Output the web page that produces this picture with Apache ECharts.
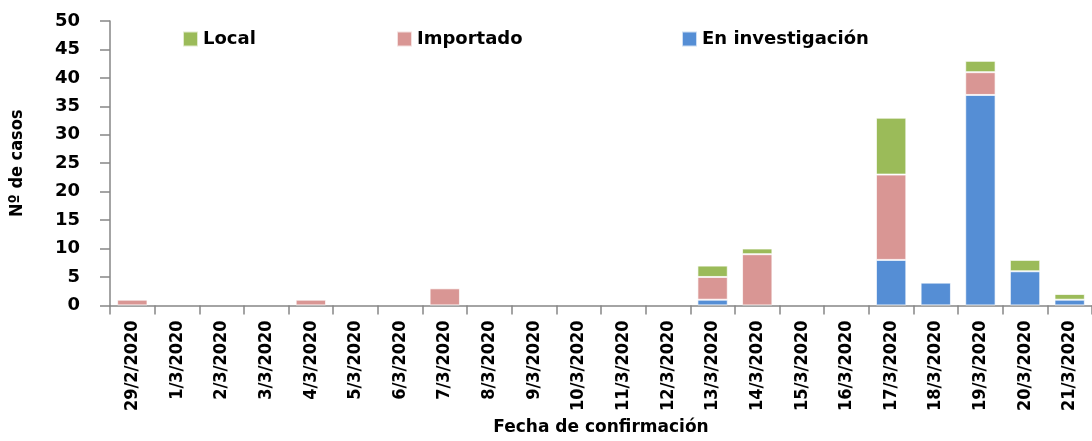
<!DOCTYPE html>
<html><head><meta charset="utf-8">
<script src="https://cdn.jsdelivr.net/npm/echarts@6/dist/echarts.min.js"></script>
<style>html,body{margin:0;padding:0;background:#fff}#c{width:1092px;height:441px}</style>
</head><body><div id="c"></div>
<script>
var categories = ['29/2/2020','1/3/2020','2/3/2020','3/3/2020','4/3/2020','5/3/2020','6/3/2020','7/3/2020','8/3/2020','9/3/2020','10/3/2020','11/3/2020','12/3/2020','13/3/2020','14/3/2020','15/3/2020','16/3/2020','17/3/2020','18/3/2020','19/3/2020','20/3/2020','21/3/2020'];
var enInvestigacion = [0,0,0,0,0,0,0,0,0,0,0,0,0,1,0,0,0,8,4,37,6,1];
var importado =       [1,0,0,0,1,0,0,3,0,0,0,0,0,4,9,0,0,15,0,4,0,0];
var local =           [0,0,0,0,0,0,0,0,0,0,0,0,0,2,1,0,0,10,0,2,2,1];
var yTicks = {min:0, max:50, interval:5};

function nz(arr){ return arr.map(function(v){ return v === 0 ? null : v; }); }

var chart = echarts.init(document.getElementById('c'));
var border = {borderColor:'rgba(255,255,255,0.7)', borderWidth:1};
var legendText = {fontFamily:'DejaVu Sans', fontWeight:'bold', fontSize:18, color:'#000'};
function lg(name, left){
  return {data:[name], left:left, top:25, itemWidth:15, itemHeight:15, itemGap:8, icon:'rect', textStyle:legendText, selectedMode:false};
}
chart.setOption({
  animation:false,
  legend:[lg('Local',177), lg('Importado',391), lg('En investigación',676)],
  grid:{left:106, top:21, width:993, bottom:134, containLabel:false},
  xAxis:{
    type:'category', data:categories, boundaryGap:true,
    axisLine:{lineStyle:{color:'#868686', width:1.5}},
    axisTick:{show:true, alignWithLabel:false, length:9, lineStyle:{color:'#868686', width:1.5}},
    axisLabel:{rotate:90, interval:0, margin:15, fontFamily:'DejaVu Sans Condensed', fontWeight:'bold', fontSize:18, color:'#000'},
    name:'Fecha de confirmación', nameLocation:'middle', nameGap:112,
    nameTextStyle:{fontFamily:'DejaVu Sans', fontWeight:'bold', fontSize:17, color:'#000'}
  },
  yAxis:{
    type:'value', min:yTicks.min, max:yTicks.max, interval:yTicks.interval,
    splitLine:{show:false},
    axisLine:{show:true, lineStyle:{color:'#868686', width:1.5}},
    axisTick:{show:true, inside:false, length:10, lineStyle:{color:'#868686', width:1.5}},
    axisLabel:{margin:30, fontFamily:'DejaVu Sans', fontWeight:'bold', fontSize:18, color:'#000'},
    name:'Nº de casos', nameLocation:'middle', nameGap:84, nameRotate:90,
    nameTextStyle:{fontFamily:'DejaVu Sans Condensed', fontWeight:'bold', fontSize:18, color:'#000'}
  },
  series:[
    {name:'En investigación', type:'bar', stack:'a', data:nz(enInvestigacion), barCategoryGap:'32%', itemStyle:Object.assign({color:'#558ED5'}, border)},
    {name:'Importado', type:'bar', stack:'a', data:nz(importado), barCategoryGap:'32%', itemStyle:Object.assign({color:'#D99694'}, border)},
    {name:'Local', type:'bar', stack:'a', data:nz(local), barCategoryGap:'32%', itemStyle:Object.assign({color:'#9BBB59'}, border)}
  ]
});
</script></body></html>
